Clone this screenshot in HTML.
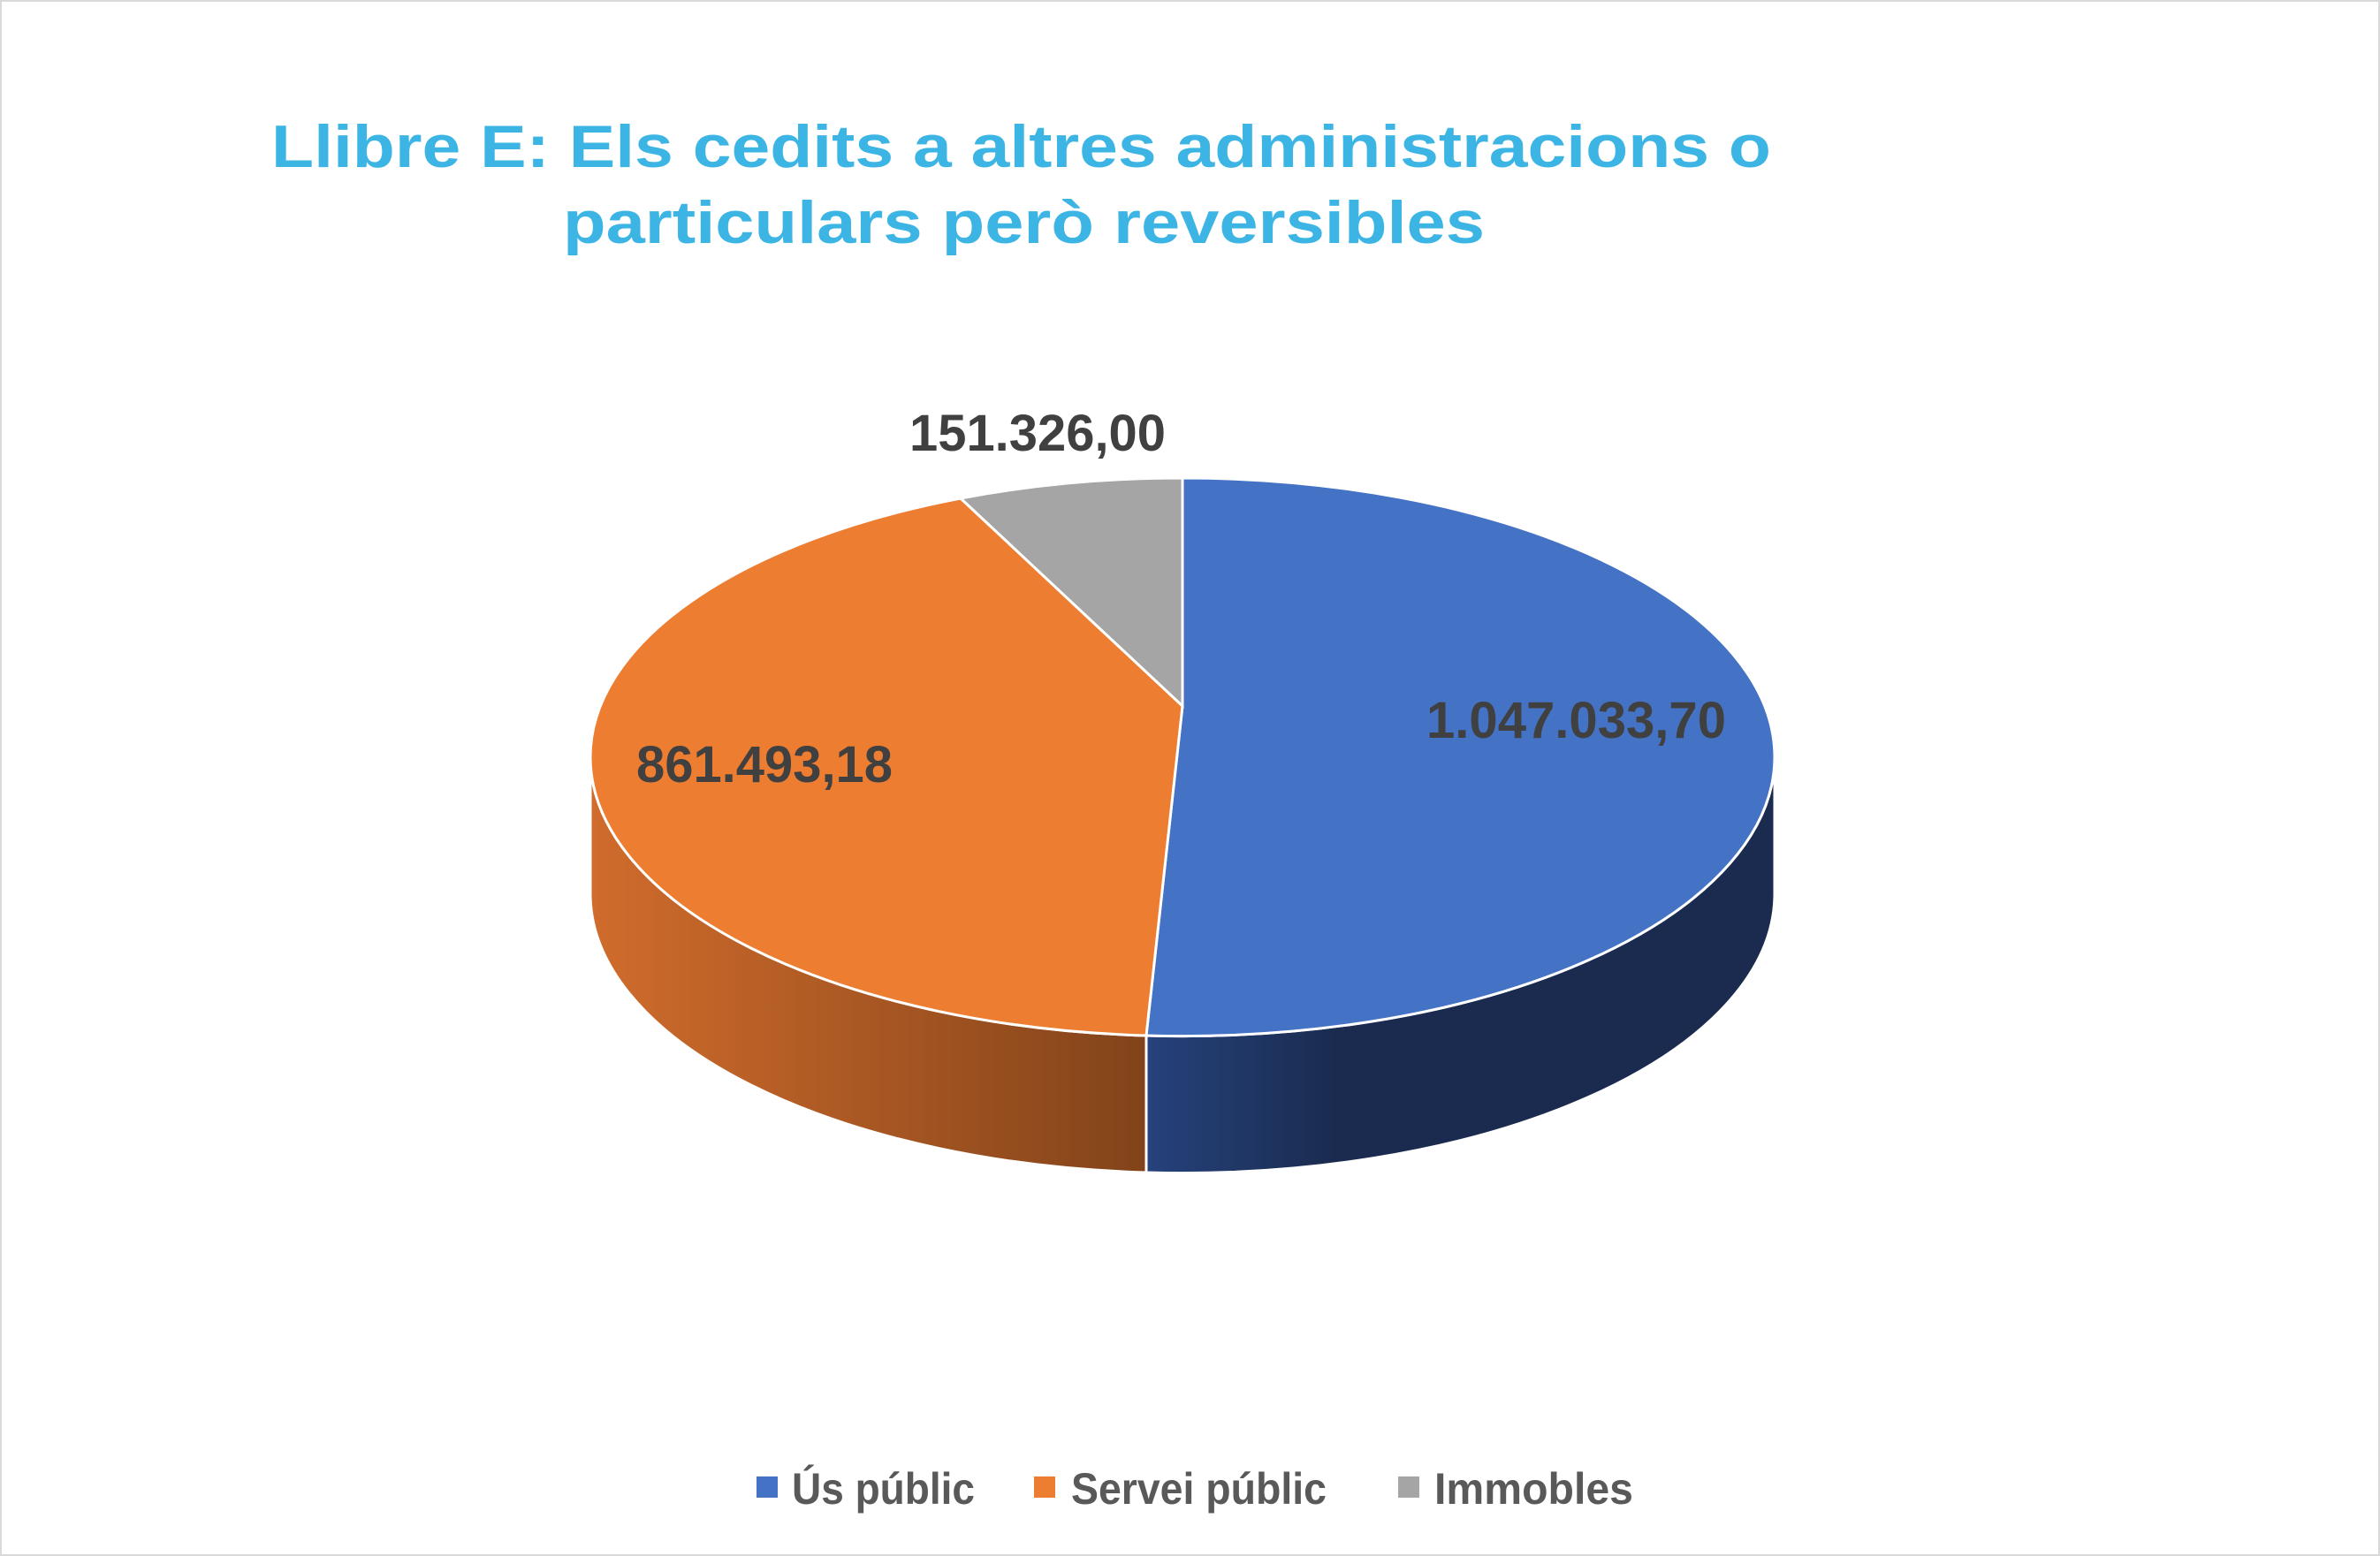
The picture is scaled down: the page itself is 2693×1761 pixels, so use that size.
<!DOCTYPE html>
<html><head><meta charset="utf-8"><style>
html,body{margin:0;padding:0;background:#fff;}
svg{display:block;}
</style></head><body>
<svg width="2693" height="1761" viewBox="0 0 2693 1761" xmlns="http://www.w3.org/2000/svg">
<defs>
<linearGradient id="og" x1="668" y1="0" x2="1297" y2="0" gradientUnits="userSpaceOnUse">
<stop offset="0" stop-color="#D06C2C"/><stop offset="1" stop-color="#82431A"/>
</linearGradient>
<linearGradient id="bg" x1="1297" y1="0" x2="2008" y2="0" gradientUnits="userSpaceOnUse">
<stop offset="0" stop-color="#26427C"/><stop offset="0.3" stop-color="#1A2B4F"/><stop offset="1" stop-color="#1A2B4F"/>
</linearGradient>
</defs>
<rect x="1" y="1" width="2691" height="1759" fill="#fff" stroke="#d9d9d9" stroke-width="2"/>
<g font-family="Liberation Sans, sans-serif" font-weight="bold" fill="#3DB5E4" font-size="68">
<text x="307" y="189" textLength="1697" lengthAdjust="spacingAndGlyphs">Llibre E: Els cedits a altres administracions o</text>
<text x="637" y="275" textLength="1043" lengthAdjust="spacingAndGlyphs">particulars però reversibles</text>
</g>
<!-- sides -->
<path d="M668,857 A670,316 0 0 0 1297,1172 L1297,1327 A670,316 0 0 1 668,1012 Z" fill="url(#og)" stroke="#fff" stroke-width="3"/>
<path d="M1297,1172 A670,316 0 0 0 2008,857 L2008,1012 A670,316 0 0 1 1297,1327 Z" fill="url(#bg)" stroke="#fff" stroke-width="3"/>
<!-- top -->
<path d="M1338,799 L1338,541 A670,316 0 0 1 2008,857 A670,316 0 0 1 1297,1172 Z" fill="#4472C4" stroke="#fff" stroke-width="3"/>
<path d="M1338,799 L1297,1172 A670,316 0 0 1 668,857 A670,316 0 0 1 1087,564 Z" fill="#ED7D31" stroke="#fff" stroke-width="3"/>
<path d="M1338,799 L1087,564 A670,316 0 0 1 1338,541 Z" fill="#A5A5A5" stroke="#fff" stroke-width="3"/>
<g font-family="Liberation Sans, sans-serif" font-weight="bold" fill="#404040" font-size="58">
<text x="1029" y="510" textLength="290" lengthAdjust="spacingAndGlyphs">151.326,00</text>
<text x="1614" y="835" textLength="339" lengthAdjust="spacingAndGlyphs">1.047.033,70</text>
<text x="720" y="885" textLength="290" lengthAdjust="spacingAndGlyphs">861.493,18</text>
</g>
<rect x="856" y="1671" width="24" height="24" fill="#4472C4"/>
<rect x="1170" y="1671" width="24" height="24" fill="#ED7D31"/>
<rect x="1582" y="1671" width="24" height="24" fill="#A5A5A5"/>
<g font-family="Liberation Sans, sans-serif" font-weight="bold" fill="#595959" font-size="50">
<text x="896" y="1702" textLength="207" lengthAdjust="spacingAndGlyphs">Ús públic</text>
<text x="1212" y="1702" textLength="289" lengthAdjust="spacingAndGlyphs">Servei públic</text>
<text x="1623" y="1702" textLength="225" lengthAdjust="spacingAndGlyphs">Immobles</text>
</g>
</svg>
</body></html>
